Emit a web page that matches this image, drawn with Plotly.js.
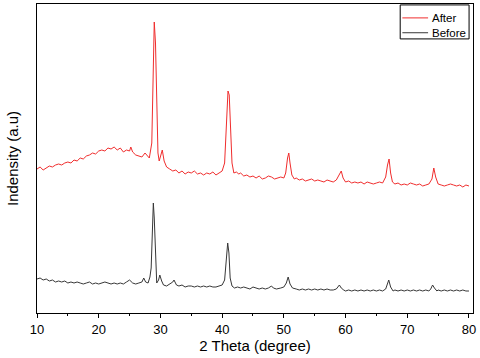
<!DOCTYPE html>
<html>
<head>
<meta charset="utf-8">
<script src="https://cdn.plot.ly/plotly-3.0.1.min.js"></script>
<style>
  html, body { margin: 0; padding: 0; background: #fff; }
  #chart { width: 480px; height: 358px; }
</style>
</head>
<body>
<div id="chart"></div>
<script>
// XRD patterns, intensity in arbitrary units (offset stacked)
const afterX = [10, 10.5, 11, 11.5, 12, 12.5, 13, 13.5, 14, 14.5, 15, 15.5, 16, 16.5, 17, 17.5, 18, 18.5, 19, 19.5,
  20, 20.5, 21, 21.5, 22, 22.5, 23, 23.5, 24, 24.5, 25, 25.2, 25.5, 26, 26.5, 27, 27.5, 27.8, 28.2, 28.6,
  28.8, 29.0, 29.2, 29.4, 29.6, 29.8, 30.1, 30.3, 30.6, 31, 31.5, 32, 32.5, 33, 33.5, 34, 34.5, 35, 35.5, 36,
  36.5, 37, 37.5, 38, 38.5, 39, 39.5, 40, 40.4, 40.7, 40.95, 41.15, 41.4, 41.6, 41.9, 42.3, 42.7, 43, 43.5, 44,
  44.5, 45, 45.5, 46, 46.5, 47, 47.5, 48, 48.5, 49, 49.5, 50, 50.3, 50.6, 50.8, 51.0, 51.3, 51.7, 52, 52.5,
  53, 53.5, 54, 54.5, 55, 55.5, 56, 56.5, 57, 57.5, 58, 58.5, 59, 59.3, 59.6, 60, 60.5, 61, 61.5, 62,
  62.5, 63, 63.5, 64, 64.5, 65, 65.5, 66, 66.5, 66.8, 67.05, 67.3, 67.6, 68, 68.5, 69, 69.5, 70, 70.5, 71,
  71.5, 72, 72.5, 73, 73.5, 74, 74.3, 74.6, 75, 75.5, 76, 76.5, 77, 77.5, 78, 78.5, 79, 79.5, 80];
const afterY = [144, 146, 143, 145, 147, 146, 148, 149, 148, 150, 151, 150, 153, 152, 155, 154, 157, 158, 160, 159,
  162, 163, 162, 165, 164, 166, 163, 165, 161, 163, 162, 166, 161, 158, 157, 156, 160, 158, 155, 170,
  230, 291, 270, 200, 160, 152, 158, 163, 152, 146, 144, 142, 143, 140, 142, 139, 141, 140, 142, 139,
  140, 138, 140, 139, 141, 138, 140, 142, 150, 190, 222, 218, 180, 150, 140, 141, 139, 140, 137, 138,
  136, 137, 135, 137, 134, 135, 137, 136, 134, 135, 136, 135, 140, 155, 160, 150, 138, 134, 135, 133,
  134, 132, 133, 134, 132, 133, 132, 131, 133, 132, 131, 133, 138, 142, 135, 131, 132, 130, 131, 130,
  131, 129, 131, 130, 129, 130, 131, 130, 136, 148, 154, 140, 131, 129, 130, 128, 129, 128, 130, 129,
  128, 129, 127, 128, 129, 134, 145, 136, 129, 128, 127, 128, 129, 128, 127, 128, 126, 128, 127];

const beforeX = [10, 10.5, 11, 11.5, 12, 12.5, 13, 13.5, 14, 14.5, 15, 15.5, 16, 16.5, 17, 17.5, 18, 18.5, 19, 19.5,
  20, 20.5, 21, 21.5, 22, 22.5, 23, 23.5, 24, 24.5, 25, 25.5, 26, 26.5, 27, 27.3, 27.6, 28, 28.3, 28.5,
  28.7, 28.85, 29.0, 29.2, 29.4, 29.7, 29.9, 30.2, 30.5, 31, 31.5, 32, 32.2, 32.6, 33, 33.5, 34, 34.5, 35, 35.5,
  36, 36.5, 37, 37.5, 38, 38.5, 39, 39.5, 40, 40.4, 40.7, 40.9, 41.1, 41.3, 41.6, 42, 42.5, 43, 43.5, 44,
  44.5, 45, 45.5, 46, 46.5, 47, 47.5, 48, 48.3, 48.8, 49.5, 50, 50.4, 50.7, 51, 51.4, 52, 52.5, 53, 53.5,
  54, 54.5, 55, 55.5, 56, 56.5, 57, 57.5, 58, 58.5, 59, 59.3, 59.7, 60, 60.5, 61, 61.5, 62, 62.5, 63,
  63.5, 64, 64.5, 65, 65.5, 66, 66.5, 66.8, 67.0, 67.3, 67.7, 68, 68.5, 69, 69.5, 70, 70.5, 71, 71.5, 72,
  72.5, 73, 73.5, 73.8, 74.1, 74.4, 74.8, 75, 75.5, 76, 76.5, 77, 77.5, 78, 78.5, 79, 79.5, 80];
const beforeY = [34, 35, 33, 34, 32, 33, 31, 32, 31, 32, 30, 31, 30, 31, 30, 29, 30, 31, 29, 30,
  29, 30, 31, 30, 29, 30, 29, 30, 29, 31, 33, 30, 29, 30, 31, 35, 31, 30, 36, 45,
  100, 110, 95, 50, 30, 33, 38, 32, 28, 27, 29, 31, 33, 28, 27, 28, 26, 27, 27, 26,
  27, 26, 27, 26, 27, 26, 26, 27, 28, 33, 55, 70, 60, 35, 27, 25, 26, 25, 26, 25,
  24, 26, 25, 24, 25, 24, 25, 27, 25, 24, 25, 26, 30, 36, 29, 25, 24, 23, 24, 23,
  24, 23, 24, 23, 24, 23, 24, 23, 23, 24, 28, 25, 23, 22, 23, 22, 23, 22, 23, 22,
  23, 22, 23, 22, 23, 22, 24, 30, 33, 26, 22, 23, 22, 23, 22, 23, 22, 23, 22, 23,
  22, 23, 22, 24, 28, 25, 22, 23, 22, 23, 22, 23, 22, 23, 22, 23, 22, 22];

const seriesNames = ['After', 'Before'];
const seriesColors = ['rgb(240,45,45)', 'rgb(55,55,55)'];

const fontFam = '"Liberation Sans", Arial, sans-serif';

const traces = [
  {
    x: afterX, y: afterY, name: seriesNames[0], type: 'scatter', mode: 'lines',
    line: { color: seriesColors[0], width: 1 }
  },
  {
    x: beforeX, y: beforeY, name: seriesNames[1], type: 'scatter', mode: 'lines',
    line: { color: seriesColors[1], width: 1 }
  }
];

// hand-drawn legend box (Origin style: short sample, tight box)
const legendRows = [0.955, 0.907];
const shapes = [
  { type: 'rect', xref: 'paper', yref: 'paper', x0: 0.833, x1: 0.991, y0: 0.887, y1: 0.997,
    line: { color: '#000', width: 1 }, fillcolor: '#fff' }
];
const annotations = [];
seriesNames.forEach((name, i) => {
  shapes.push({ type: 'line', xref: 'paper', yref: 'paper', x0: 0.838, x1: 0.897,
    y0: legendRows[i], y1: legendRows[i], line: { color: seriesColors[i], width: 1 } });
  annotations.push({ xref: 'paper', yref: 'paper', x: 0.901, y: legendRows[i], xanchor: 'left',
    yanchor: 'middle', text: name, showarrow: false, font: { family: fontFam, size: 11.5, color: '#000' } });
});

const layout = {
  width: 480,
  height: 358,
  margin: { l: 37, r: 7, t: 4, b: 45 },
  paper_bgcolor: '#fff',
  plot_bgcolor: '#fff',
  font: { family: fontFam, size: 12, color: '#000' },
  showlegend: false,
  shapes: shapes,
  annotations: annotations,
  xaxis: {
    range: [10, 80.65],
    tick0: 10, dtick: 10,
    ticks: 'outside', ticklen: 4, tickcolor: '#000',
    minor: { dtick: 5, ticks: 'outside', ticklen: 2, tickcolor: '#000' },
    showline: true, linecolor: '#000', linewidth: 1, mirror: true,
    showgrid: false, zeroline: false,
    tickfont: { family: fontFam, size: 13 },
    title: { text: '2 Theta (degree)', font: { family: fontFam, size: 15 }, standoff: 4 }
  },
  yaxis: {
    range: [0, 309],
    showticklabels: false, ticks: '',
    showline: true, linecolor: '#000', linewidth: 1, mirror: true,
    showgrid: false, zeroline: false,
    title: { text: 'Indensity (a.u)', font: { family: fontFam, size: 15 }, standoff: 13 }
  }
};

Plotly.newPlot('chart', traces, layout, { displayModeBar: false, staticPlot: true });
</script>
</body>
</html>
